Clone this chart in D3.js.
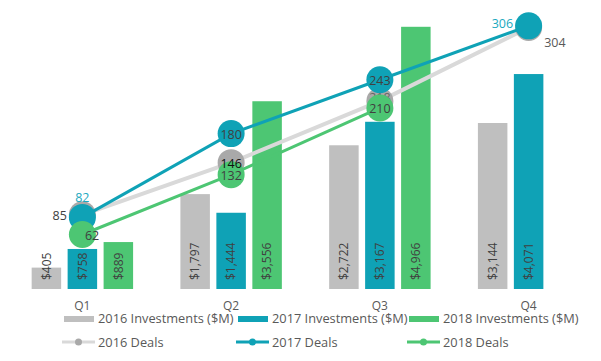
<!DOCTYPE html>
<html>
<head>
<meta charset="utf-8">
<script src="https://cdn.jsdelivr.net/npm/d3@7/dist/d3.min.js"></script>
<style>
  html, body { margin: 0; padding: 0; background: #fff; }
  svg { display: block; font-family: "Open Sans", "Noto Sans", sans-serif; }
</style>
</head>
<body>
<svg id="chart" width="601" height="361"></svg>
<script>
// ---- data ----
const quarters = ["Q1", "Q2", "Q3", "Q4"];
const invSeries = ["2016 Investments ($M)", "2017 Investments ($M)", "2018 Investments ($M)"];
const inv2016 = [405, 1797, 2722, 3144];
const inv2017 = [758, 1444, 3167, 4071];
const inv2018 = [889, 3556, 4966, null];
const dealSeries = ["2016 Deals", "2017 Deals", "2018 Deals"];
const deals2016 = [85, 146, 218, 304];
const deals2017 = [82, 180, 243, 306];
const deals2018 = [62, 132, 210, null];

// ---- styles ----
const barColors = ["#bfbfbf", "#0fa2b6", "#4dc673"];
const lineColors = ["#d9d9d9", "#0fa2b6", "#4dc673"];
const markerColors = ["#a9a9a9", "#0fa2b6", "#4dc673"];
const lineWidths = [4, 3, 3];
// label placement per deal point: c = centre, a = above, l = left, r = right, rb = right-below
const dealLabelPos = [["l", "c", "c", "rb"], ["a", "c", "c", "l"], ["r", "c", "c", null]];
const dealLabelColor = [["#404040", "#111111", "#666666", "#595959"],
                        ["#1aa9c0", "#404040", "#404040", "#1aa9c0"],
                        ["#404040", "#404040", "#404040", null]];
// labels drawn beneath the 2018 markers
const dealLabelUnder = [[false, false, true, false], [false, false, false, false], [false, false, false, false]];

const svg = d3.select("#chart");
const baseY = 289, topY = 25;

const x = d3.scaleBand().domain(quarters).range([8, 603]).padding(0);
const groupW = x.bandwidth() * 0.682;
const xInner = d3.scaleBand().domain(invSeries).range([0, groupW]).paddingInner(0.18).paddingOuter(0);
const yBar = d3.scaleLinear().domain([0, 5000]).range([baseY, topY]);
const yLine = d3.scaleLinear().domain([0, 307]).range([baseY - 1.5, topY]);

const invData = [inv2016, inv2017, inv2018];
const dealData = [deals2016, deals2017, deals2018];
const fmt = d3.format(",");

// ---- bars ----
const gBars = svg.append("g");
invData.forEach((arr, si) => {
  quarters.forEach((q, qi) => {
    const v = arr[qi];
    if (v == null) return;
    const bx = x(q) + (x.bandwidth() - groupW) / 2 + xInner(invSeries[si]);
    gBars.append("rect")
      .attr("x", bx).attr("y", yBar(v))
      .attr("width", xInner.bandwidth()).attr("height", yBar(0) - yBar(v))
      .attr("fill", barColors[si]);
    gBars.append("text")
      .attr("transform", `translate(${bx + xInner.bandwidth() / 2},${baseY - 9}) rotate(-90)`)
      .attr("dy", "0.36em")
      .attr("font-size", 12)
      .attr("fill", "#404040")
      .text("$" + fmt(v));
  });
});

// ---- category labels ----
svg.append("g").selectAll("text").data(quarters).join("text")
  .attr("x", d => x(d) + x.bandwidth() / 2)
  .attr("y", 309.5)
  .attr("text-anchor", "middle")
  .attr("font-size", 12)
  .attr("fill", "#595959")
  .text(d => d);

// ---- lines ----
const cx = q => x(q) + x.bandwidth() / 2;
const line = d3.line()
  .defined(d => d.v != null)
  .x(d => cx(d.q)).y(d => yLine(d.v));

const gS0 = svg.append("g"), gS1 = svg.append("g"), gUnder = svg.append("g").attr("font-size", 12.5),
      gS2 = svg.append("g"), gLab = svg.append("g").attr("font-size", 12.5);
const seriesGroups = [gS0, gS1, gS2];

dealData.forEach((arr, si) => {
  const g = seriesGroups[si];
  const pts = quarters.map((q, qi) => ({ q, v: arr[qi] }));
  g.append("path")
    .attr("d", line(pts))
    .attr("fill", "none")
    .attr("stroke", lineColors[si])
    .attr("stroke-width", lineWidths[si])
    .attr("stroke-linecap", "round");
  g.selectAll(null).data(pts.filter(d => d.v != null)).join("circle")
    .attr("cx", d => cx(d.q)).attr("cy", d => yLine(d.v))
    .attr("r", 13.5)
    .attr("fill", markerColors[si]);
});

// ---- deal labels ----
dealData.forEach((arr, si) => {
  quarters.forEach((q, qi) => {
    const v = arr[qi];
    if (v == null) return;
    const px = cx(q), py = yLine(v);
    const pos = dealLabelPos[si][qi];
    let tx = px, ty = py + 1, anchor = "middle";
    if (pos === "a") { ty = py - 20; }
    else if (pos === "l") { tx = px - 15.5; anchor = "end"; ty = py + (si === 1 ? -2.5 : 1); }
    else if (pos === "r") { tx = px + 2.5; anchor = "start"; }
    else if (pos === "rb") { tx = px + 15.5; anchor = "start"; ty = py + 15; }
    if (dealLabelUnder[si][qi]) ty = py - 4;
    (dealLabelUnder[si][qi] ? gUnder : gLab).append("text")
      .attr("x", tx).attr("y", ty)
      .attr("dy", "0.36em")
      .attr("text-anchor", anchor)
      .attr("fill", dealLabelColor[si][qi])
      .text(v);
  });
});

// ---- legend ----
const legX = [64, 238, 409];
const gLeg = svg.append("g").attr("font-size", 12.8).attr("fill", "#595959");
invSeries.forEach((s, i) => {
  gLeg.append("rect").attr("x", legX[i]).attr("y", 316).attr("width", 30).attr("height", 6)
    .attr("fill", barColors[i]);
  gLeg.append("text").attr("x", legX[i] + 34).attr("y", 323).text(s);
});
dealSeries.forEach((s, i) => {
  const lx = legX[i] - 2;
  gLeg.append("line").attr("x1", lx).attr("x2", lx + 33).attr("y1", 342).attr("y2", 342)
    .attr("stroke", lineColors[i]).attr("stroke-width", 3);
  gLeg.append("circle").attr("cx", lx + 16.5).attr("cy", 342).attr("r", 3.5)
    .attr("fill", markerColors[i]);
  gLeg.append("text").attr("x", legX[i] + 34).attr("y", 346.5).text(s);
});
</script>
</body>
</html>
